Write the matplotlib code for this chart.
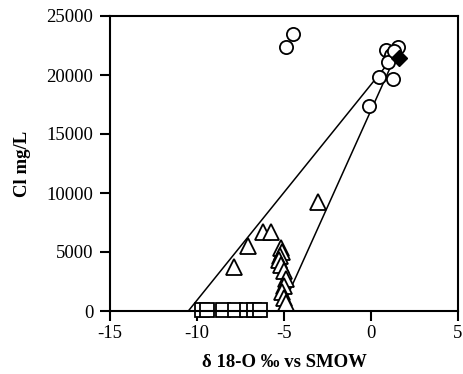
import matplotlib
matplotlib.use("Agg")
import matplotlib.pyplot as plt

# Data
circ_x = [-4.5, -4.9, 0.85, 1.54, 1.14, 1.0, 0.45, 1.25, -0.13, 1.3]
circ_y = [23500, 22350, 22100, 22350, 21700, 21100, 19850, 19700, 17400, 22000]

tri_x = [-3.07, -6.18, -5.72, -7.05, -7.9,
         -5.2, -5.1, -5.25, -5.3, -5.2, -5.0, -4.9, -5.0, -5.1, -5.0, -4.9]
tri_y = [9200, 6700, 6700, 5500, 3700,
         5300, 5000, 4700, 4300, 3900, 3400, 2700, 2100, 1600, 1100, 700]

sq_x = [-9.7, -9.4, -8.5, -7.8, -7.1, -6.7, -6.4]
sq_y = [50, 50, 50, 50, 50, 50, 50]

sw_x = [1.6]
sw_y = [21450]

line1_x = [-10.5, 1.1]
line1_y = [0, 21200]
line2_x = [-4.8, 1.25]
line2_y = [1300, 21100]

xticks = [-15, -10, -5, 0, 5]
yticks = [0, 5000, 10000, 15000, 20000, 25000]

plt.rcParams['font.family'] = ['Liberation Serif', 'DejaVu Serif']

fig = plt.figure(figsize=(4.63, 3.74), dpi=100)
ax = fig.add_axes([110/463, 63/374, 348/463, 295/374])

ax.plot(line1_x, line1_y, color='black', lw=1.1, zorder=1)
ax.plot(line2_x, line2_y, color='black', lw=1.1, zorder=1)

mk = dict(mfc='white', mec='black', mew=1.3, ls='none', zorder=2, clip_on=False)
ax.plot(sq_x, sq_y, marker='s', ms=10.5, **mk)
ax.plot(tri_x, tri_y, marker='^', ms=11.5, **mk)
ax.plot(circ_x, circ_y, marker='o', ms=9.5, **mk)
ax.plot(sw_x, sw_y, marker='D', ms=8, mfc='black', mec='black', ls='none', zorder=3)

ax.set_xlim(-15, 5)
ax.set_ylim(0, 25000)
ax.set_xticks(xticks)
ax.set_yticks(yticks)
ax.set_xticklabels([str(v) for v in xticks])
ax.set_yticklabels([str(v) for v in yticks])
ax.tick_params(direction='out', length=7, width=1.5, labelsize=13.5, colors='black')
ax.tick_params(axis='y', pad=5)
ax.tick_params(axis='x', pad=3)
for s in ax.spines.values():
    s.set_linewidth(1.5)

ax.set_xlabel('δ 18-O ‰ vs SMOW', fontsize=13.5, fontweight='bold', labelpad=9)
ax.set_ylabel('Cl mg/L', fontsize=13.5, fontweight='bold', labelpad=11)

fig.savefig('out.png', dpi=100)
